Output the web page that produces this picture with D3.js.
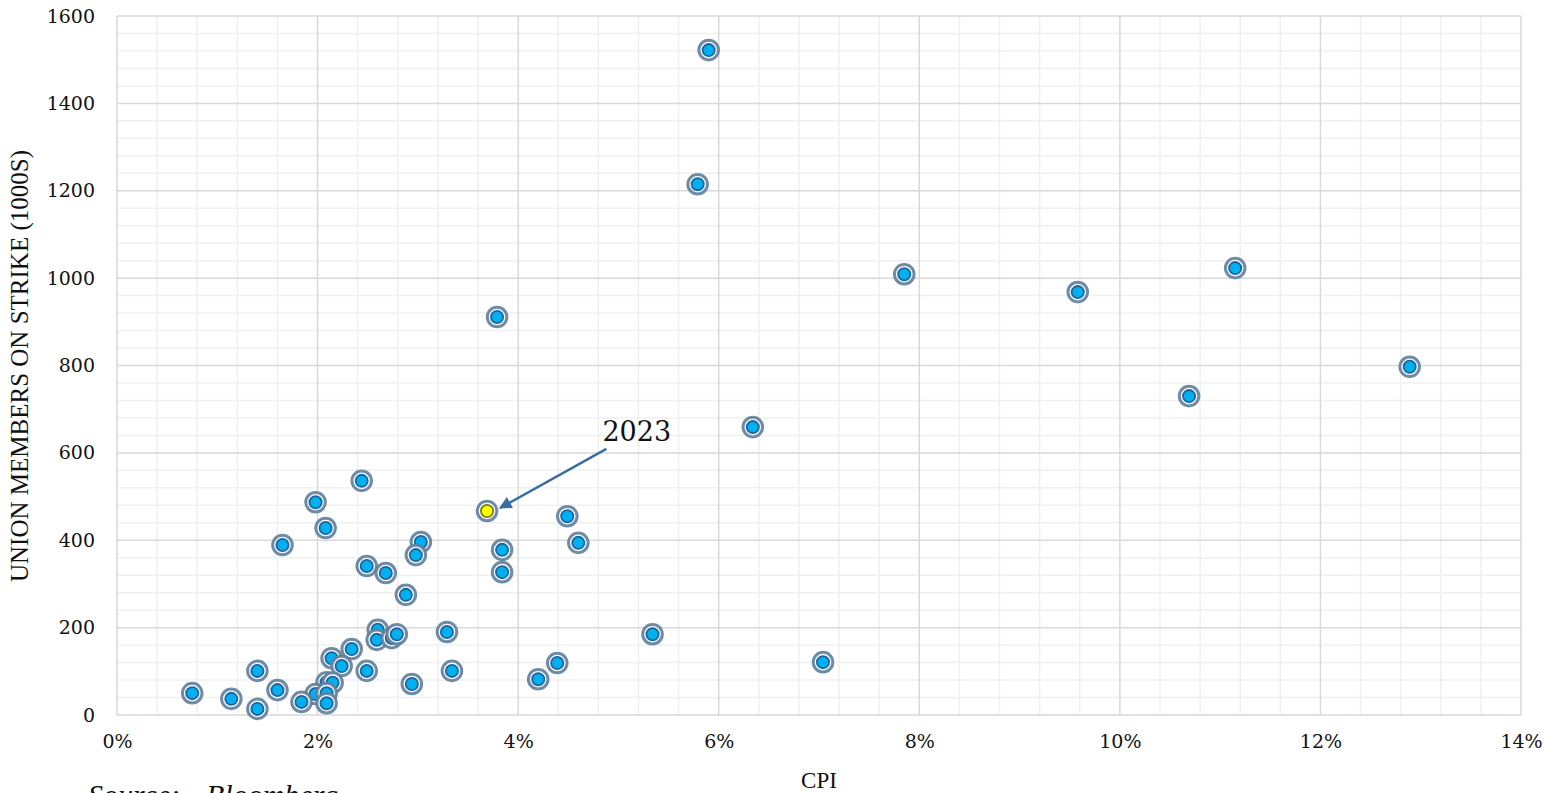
<!DOCTYPE html>
<html>
<head>
<meta charset="utf-8">
<script src="https://cdn.jsdelivr.net/npm/d3@7"></script>
<style>
  html, body { margin: 0; padding: 0; background: #fff; }
  svg { display: block; }
</style>
</head>
<body>
<svg id="chart" width="1556" height="793"></svg>
<script>
// ---- data ----
const cpi = [5.90, 5.79, 7.85, 11.15, 9.58, 3.79, 12.89, 10.69, 6.34, 2.44,
             1.98, 4.49, 2.08, 4.60, 3.03, 1.65, 2.98, 3.84, 2.49, 2.68,
             3.84, 2.88, 3.29, 5.34, 2.60, 2.59, 2.74, 2.79, 2.34, 2.14,
             2.24, 2.49, 3.34, 2.94, 2.09, 2.15, 1.98, 2.09, 2.09, 1.84,
             1.60, 1.40, 1.40, 1.14, 0.75, 4.20, 4.39, 7.04];
const strikers = [1522, 1215, 1009, 1023, 968, 911, 797, 730, 659, 536,
                  487, 455, 428, 394, 396, 389, 366, 378, 341, 325,
                  327, 275, 190, 185, 195, 172, 176, 185, 151, 130,
                  112, 101, 101, 71, 75, 74, 48, 50, 27, 30,
                  57, 101, 14, 37, 50, 82, 119, 121];
const highlightLabel = "2023";
const highlightCpi = 3.69;
const highlightStrikers = 467;

const xTicks = [0, 2, 4, 6, 8, 10, 12, 14];
const yTicks = [0, 200, 400, 600, 800, 1000, 1200, 1400, 1600];
const xTitle = "CPI";
const yTitle = "UNION MEMBERS ON STRIKE (1000S)";
const sourcePrefix = "Source:";
const sourceName = "Bloomberg";

// ---- layout ----
const svg = d3.select("#chart");
const pL = 117, pR = 1521, pT = 16, pB = 715;

const x = d3.scaleLinear().domain([0, 14]).range([pL, pR]);
const y = d3.scaleLinear().domain([0, 1600]).range([pB, pT]);

const tickFont = "'DejaVu Serif', Georgia, serif";
const titleFont = "'Liberation Serif', 'Times New Roman', serif";

// minor gridlines
const xMinor = d3.range(0, 14.0001, 0.4).filter(v => Math.abs(v / 2 - Math.round(v / 2)) > 1e-6);
const yMinor = d3.range(0, 1600.0001, 40).filter(v => v % 200 !== 0);

const grid = svg.append("g");
grid.selectAll("line.xm").data(xMinor).join("line")
  .attr("x1", d => x(d)).attr("x2", d => x(d))
  .attr("y1", pT).attr("y2", pB)
  .attr("stroke", "#f0f0f0").attr("stroke-width", 1.5);
grid.selectAll("line.ym").data(yMinor).join("line")
  .attr("x1", pL).attr("x2", pR)
  .attr("y1", d => y(d)).attr("y2", d => y(d))
  .attr("stroke", "#f0f0f0").attr("stroke-width", 1.5);

// major gridlines
grid.selectAll("line.xM").data(xTicks).join("line")
  .attr("x1", d => x(d)).attr("x2", d => x(d))
  .attr("y1", pT).attr("y2", pB)
  .attr("stroke", "#d9d9d9").attr("stroke-width", 1.5);
grid.selectAll("line.yM").data(yTicks).join("line")
  .attr("x1", pL).attr("x2", pR)
  .attr("y1", d => y(d)).attr("y2", d => y(d))
  .attr("stroke", "#d9d9d9").attr("stroke-width", 1.5);

// axes (labels only, via d3 axis)
const xAxis = d3.axisBottom(x).tickValues(xTicks).tickFormat(d => d + "%").tickSize(0).tickPadding(20);
const yAxis = d3.axisLeft(y).tickValues(yTicks).tickFormat(d3.format("d")).tickSize(0).tickPadding(22);

const gx = svg.append("g").attr("transform", `translate(0,${pB})`).call(xAxis);
const gy = svg.append("g").attr("transform", `translate(${pL},0)`).call(yAxis);
[gx, gy].forEach(g => {
  g.select(".domain").remove();
  g.selectAll("text").attr("font-family", tickFont).attr("font-size", 19).attr("fill", "#111");
});

// axis titles
svg.append("text")
  .attr("x", (pL + pR) / 2).attr("y", 788)
  .attr("text-anchor", "middle")
  .attr("font-family", titleFont).attr("font-size", 23).attr("fill", "#111")
  .text(xTitle);
svg.append("text")
  .attr("transform", `translate(28,366) rotate(-90)`)
  .attr("text-anchor", "middle")
  .attr("font-family", titleFont).attr("font-size", 25).attr("fill", "#111")
  .text(yTitle);

// source (partly below the bottom edge, as in the reference)
const src = svg.append("text")
  .attr("x", 88).attr("y", 805)
  .attr("font-family", titleFont).attr("font-size", 30).attr("font-style", "italic").attr("fill", "#111");
src.append("tspan").text(sourcePrefix);
src.append("tspan").attr("x", 206).text(sourceName);

// points
const pts = cpi.map((c, i) => ({ c, s: strikers[i], hi: false }));
pts.push({ c: highlightCpi, s: highlightStrikers, hi: true });

const marks = svg.append("g").selectAll("g").data(pts).join("g")
  .attr("transform", d => `translate(${x(d.c)},${y(d.s)})`);
marks.append("circle").attr("r", 9.8)
  .attr("fill", "#ffffff").attr("stroke", "#5f7e9b").attr("stroke-opacity", 0.9).attr("stroke-width", 3);
marks.append("circle").attr("r", 6.1)
  .attr("fill", d => d.hi ? "#ffff00" : "#00b0f0")
  .attr("stroke", d => d.hi ? "#7a7a10" : "#1b65a0").attr("stroke-width", 1.8);

// annotation
svg.append("defs").append("marker")
  .attr("id", "arrow").attr("viewBox", "0 0 10 10")
  .attr("refX", 9).attr("refY", 5)
  .attr("markerWidth", 6).attr("markerHeight", 5)
  .attr("markerUnits", "strokeWidth")
  .attr("orient", "auto")
  .append("path").attr("d", "M0,0 L10,5 L0,10 Z").attr("fill", "#3a6ea3");

const hx = x(highlightCpi), hy = y(highlightStrikers);
svg.append("line")
  .attr("x1", x(4.88)).attr("y1", y(609))
  .attr("x2", hx + 13).attr("y2", hy - 3)
  .attr("stroke", "#3a6ea3").attr("stroke-width", 2.5)
  .attr("marker-end", "url(#arrow)");
svg.append("text")
  .attr("x", x(4.84)).attr("y", y(627))
  .attr("font-family", tickFont).attr("font-size", 27).attr("fill", "#111")
  .text(highlightLabel);
</script>
</body>
</html>
